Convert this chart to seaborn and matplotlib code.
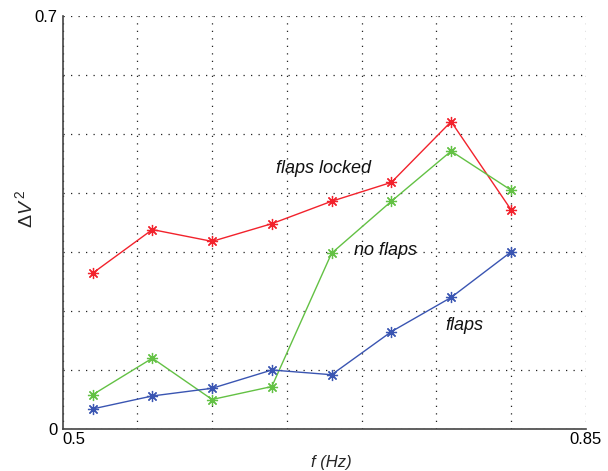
import matplotlib
matplotlib.use('Agg')
import matplotlib.pyplot as plt
from matplotlib.ticker import MultipleLocator, FixedFormatter, FixedLocator
import seaborn as sns

# frequencies (Hz)
freq = [0.52, 0.56, 0.60, 0.64, 0.68, 0.72, 0.76, 0.80]

# delta V^2 for each configuration
flaps_locked = [0.264, 0.338, 0.318, 0.348, 0.386, 0.418, 0.521, 0.372]
no_flaps = [0.058, 0.120, 0.050, 0.072, 0.298, 0.386, 0.471, 0.405]
flaps = [0.034, 0.056, 0.069, 0.100, 0.092, 0.165, 0.223, 0.300]

series = [
    (flaps_locked, '#f2222c'),
    (no_flaps, '#63c144'),
    (flaps, '#3a55b2'),
]

labels = [
    ('flaps locked', 0.6428, 0.442),
    ('no flaps', 0.695, 0.302),
    ('flaps', 0.756, 0.176),
]

sns.set_style('white')
plt.rcParams['font.family'] = ['Liberation Sans', 'DejaVu Sans']
plt.rcParams['mathtext.fontset'] = 'custom'
plt.rcParams['mathtext.rm'] = 'Liberation Sans'
plt.rcParams['mathtext.it'] = 'Liberation Sans:italic'

fig = plt.figure(figsize=(6.08, 4.71), dpi=100)
ax = fig.add_axes([62.7 / 608, 42 / 471, 522.9 / 608, 413 / 471])

for vals, col in series:
    sns.lineplot(x=freq, y=vals, ax=ax, color=col, lw=1, sort=False,
                 marker=(8, 2, 0), markersize=8, markeredgecolor=col,
                 markeredgewidth=0.9, errorbar=None)

for txt, x, y in labels:
    ax.text(x, y, txt, fontsize=13, style='italic', ha='left', va='center', color='#111111')

ax.set_xlim(0.5, 0.85)
ax.set_ylim(0, 0.7)

xt = [0.5, 0.55, 0.6, 0.65, 0.7, 0.75, 0.8, 0.85]
yt = [0, 0.1, 0.2, 0.3, 0.4, 0.5, 0.6, 0.7]
ax.xaxis.set_major_locator(FixedLocator(xt))
ax.xaxis.set_major_formatter(FixedFormatter(['0.5', '', '', '', '', '', '', '0.85']))
ax.yaxis.set_major_locator(FixedLocator(yt))
ax.yaxis.set_major_formatter(FixedFormatter(['0', '', '', '', '', '', '', '0.7']))
ax.xaxis.set_minor_locator(MultipleLocator(0.005))
ax.yaxis.set_minor_locator(MultipleLocator(0.01))

ax.tick_params(which='major', direction='in', length=5, width=0.8, labelsize=12, pad=2, colors='#333333', labelcolor='black')
ax.tick_params(which='minor', direction='in', length=2.5, width=0.6, colors='#555555')
ax.tick_params(axis='y', which='major', pad=4)
# first x label sits just right of the corner, like the reference
ax.get_xticklabels()[0].set_horizontalalignment('left')

ax.grid(True, which='major', ls=(0, (1, 5)), lw=0.9, color='#222222')
for side in ['top', 'right']:
    ax.spines[side].set_visible(False)
for side in ['left', 'bottom']:
    ax.spines[side].set_color('#444444')
    ax.spines[side].set_linewidth(1.2)

fig.text(331 / 608, 1 - 462 / 471, 'f (Hz)', fontsize=12, style='italic', ha='center', va='center')
fig.text(25 / 608, 1 - 209 / 471, r'$\mathit{\Delta V}^{\,2}$', fontsize=14, rotation=90,
         ha='center', va='center')

fig.savefig('out.png', dpi=100)
plt.close(fig)
